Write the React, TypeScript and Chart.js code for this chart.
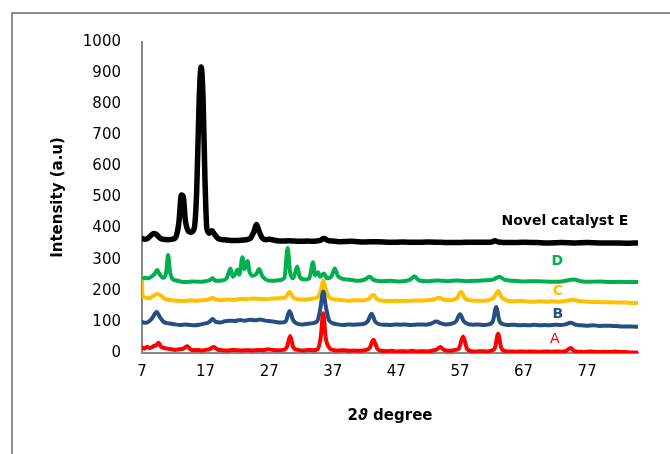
import React, { useEffect, useRef } from "react";
import { Chart, registerables } from "chart.js";

Chart.register(...registerables);

// ---- axis settings / tick labels ----
const X_MIN = 7;
const X_MAX = 85;
const X_TICKS = [7, 17, 27, 37, 47, 57, 67, 77];
const Y_MIN = 0;
const Y_MAX = 1000;
const Y_STEP = 100;
const X_TITLE_PARTS = ["2", "ϑ", " degree"];
const Y_TITLE = "Intensity (a.u)";

// ---- series values: [2theta, intensity] ----
const seriesE: [number, number][] = [
  [7, 368], [7.5, 366], [8, 370], [8.5, 380], [8.8, 384], [9.2, 382], [9.7, 372], [10.2, 366], [11, 364],
  [11.8, 366], [12.3, 372], [12.8, 420], [13.2, 508], [13.5, 502], [13.8, 430], [14.2, 395], [14.7, 388],
  [15.2, 400], [15.6, 520], [16, 820], [16.3, 920], [16.6, 820], [16.9, 560], [17.2, 400], [17.6, 385],
  [18, 393], [18.4, 382], [19, 368], [20, 364], [21, 362], [22, 362], [23, 363], [24, 368], [24.6, 390],
  [25, 413], [25.4, 392], [25.9, 370], [26.5, 364], [27, 366], [28, 362], [29, 360], [30, 361], [31, 360],
  [32, 359], [33, 360], [34, 359], [35, 362], [35.6, 368], [36.2, 362], [37, 360], [38, 358], [40, 359],
  [42, 357], [44, 358], [46, 356], [48, 357], [50, 356], [52, 357], [54, 356], [56, 355], [58, 356],
  [60, 356], [62, 357], [62.5, 361], [63, 357], [65, 355], [67, 356], [69, 355], [71, 354], [73, 355],
  [75, 354], [77, 355], [79, 354], [81, 354], [83, 353], [85, 354],
];

const seriesD: [number, number][] = [
  [7, 238], [7.5, 242], [8, 240], [8.5, 246], [9, 255], [9.4, 267], [9.8, 252], [10.3, 242], [10.8, 258],
  [11.1, 315], [11.4, 262], [11.8, 238], [12.5, 233], [13, 230], [14, 228], [15, 230], [16, 229], [17, 231],
  [17.6, 234], [18.1, 240], [18.6, 232], [19.5, 233], [20.3, 240], [20.9, 272], [21.3, 245], [21.7, 255],
  [22, 268], [22.3, 252], [22.8, 308], [23.1, 270], [23.6, 296], [23.9, 262], [24.4, 248], [25, 255],
  [25.4, 270], [25.9, 248], [26.5, 236], [27.5, 232], [28.5, 234], [29.4, 242], [29.9, 338], [30.3, 258],
  [30.8, 240], [31.4, 278], [31.8, 245], [32.5, 236], [33.3, 240], [33.9, 292], [34.2, 250], [34.7, 260],
  [35, 245], [35.6, 256], [36.1, 240], [36.8, 246], [37.3, 272], [37.8, 248], [38.6, 238], [39.4, 236],
  [40.2, 234], [41, 232], [42, 236], [42.8, 245], [43.4, 235], [44.5, 231], [46, 232], [47.5, 230],
  [49, 234], [49.9, 246], [50.5, 234], [52, 231], [53.5, 233], [55, 231], [56.5, 233], [58, 231],
  [59.5, 232], [61, 234], [62.2, 236], [63.2, 245], [64, 236], [65.5, 232], [67, 230], [68.5, 231],
  [70, 230], [71.5, 229], [73, 230], [74.9, 236], [76, 231], [77.5, 229], [79, 230], [80.5, 228],
  [82, 229], [83.5, 228], [85, 228],
];

const seriesC: [number, number][] = [
  [7, 230], [7.1, 182], [7.6, 178], [8.2, 176], [8.8, 184], [9.4, 190], [10, 184], [10.6, 174], [11.5, 170],
  [12.5, 168], [13.5, 167], [14.5, 169], [15.5, 168], [16.5, 170], [17.5, 172], [18.1, 178], [18.7, 171],
  [19.5, 170], [20.5, 172], [21.5, 171], [22.5, 174], [23.5, 173], [24.5, 175], [25.5, 174], [26.5, 173],
  [27.5, 175], [28.5, 176], [29.5, 178], [30.2, 196], [30.8, 178], [31.5, 173], [32.5, 172], [33.5, 174],
  [34.5, 178], [35.1, 200], [35.5, 232], [36, 198], [36.6, 176], [37.5, 172], [38.5, 170], [39.5, 168],
  [40.5, 170], [41.5, 169], [42.5, 172], [43.4, 187], [44, 172], [45, 168], [46, 167], [47, 168], [48, 167],
  [49, 168], [50, 169], [51, 168], [52, 170], [53, 173], [53.7, 178], [54.5, 171], [55.5, 170], [56.5, 176],
  [57.2, 196], [57.8, 176], [58.5, 170], [59.5, 168], [60.5, 168], [61.5, 170], [62.4, 180], [63, 199],
  [63.6, 178], [64.5, 168], [65.5, 166], [66.5, 167], [67.5, 166], [68.5, 165], [69.5, 166], [70.5, 165],
  [71.5, 166], [72.5, 165], [73.5, 167], [74.8, 171], [75.8, 167], [77, 165], [78, 164], [79, 164],
  [80, 163], [81, 163], [82, 162], [83, 162], [84, 161], [85, 161],
];

const seriesB: [number, number][] = [
  [7, 100], [7.5, 97], [8, 100], [8.6, 112], [9.3, 132], [9.8, 116], [10.4, 100], [11, 96], [11.6, 94],
  [12.2, 92], [13, 90], [13.8, 92], [14.6, 90], [15.4, 89], [16.2, 92], [17, 95], [17.6, 100], [18.1, 109],
  [18.6, 100], [19.3, 98], [20, 102], [20.8, 104], [21.6, 103], [22.4, 106], [23.2, 104], [24, 107],
  [24.8, 105], [25.6, 108], [26.4, 104], [27.2, 102], [28, 100], [28.8, 98], [29.6, 102], [30.2, 135],
  [30.8, 104], [31.5, 94], [32.3, 92], [33.1, 94], [33.9, 96], [34.6, 104], [35.1, 150], [35.5, 198],
  [35.9, 150], [36.4, 106], [37, 96], [37.8, 92], [38.6, 90], [39.4, 92], [40.2, 91], [41, 92], [41.8, 93],
  [42.5, 102], [43.1, 126], [43.7, 100], [44.4, 92], [45.2, 91], [46, 90], [46.8, 92], [47.6, 91],
  [48.4, 92], [49.2, 90], [50, 91], [50.8, 92], [51.6, 91], [52.4, 94], [53.3, 101], [54, 95], [54.8, 92],
  [55.6, 94], [56.4, 102], [57, 125], [57.6, 102], [58.3, 93], [59.1, 91], [59.9, 92], [60.7, 90],
  [61.5, 92], [62.2, 104], [62.7, 148], [63.2, 104], [63.9, 92], [64.7, 90], [65.5, 91], [66.3, 89],
  [67.1, 90], [67.9, 89], [68.7, 91], [69.5, 89], [70.3, 90], [71.1, 89], [71.9, 91], [72.7, 90],
  [73.6, 92], [74.4, 97], [75.2, 91], [76, 89], [77, 88], [78, 89], [79, 87], [80, 88], [81, 87],
  [82, 86], [83, 85], [84, 85], [85, 84],
];

const seriesA: [number, number][] = [
  [7, 18], [7.4, 14], [7.8, 20], [8.3, 16], [8.8, 22], [9.3, 26], [9.6, 33], [10, 20], [10.5, 16], [11, 14],
  [11.6, 12], [12.2, 10], [12.8, 12], [13.5, 14], [14.1, 22], [14.6, 12], [15.2, 9], [15.8, 10], [16.4, 8],
  [17, 10], [17.6, 12], [18.3, 19], [18.9, 11], [19.6, 9], [20.4, 8], [21.2, 10], [22, 9], [22.8, 8],
  [23.6, 9], [24.4, 8], [25.2, 10], [26, 9], [26.8, 12], [27.6, 10], [28.4, 9], [29.2, 10], [29.8, 20],
  [30.3, 55], [30.8, 18], [31.5, 10], [32.3, 8], [33.1, 10], [33.9, 9], [34.6, 12], [35.1, 50], [35.5, 128],
  [35.9, 48], [36.5, 16], [37.2, 9], [38, 8], [38.8, 9], [39.6, 7], [40.4, 8], [41.2, 7], [42, 9], [42.8, 16],
  [43.4, 43], [44, 14], [44.7, 7], [45.5, 6], [46.3, 7], [47.1, 5], [47.9, 6], [48.7, 5], [49.5, 7],
  [50.3, 5], [51.1, 6], [51.9, 5], [52.7, 8], [53.4, 12], [53.9, 19], [54.5, 10], [55.2, 7], [56, 9],
  [56.8, 14], [57.5, 53], [58.1, 14], [58.8, 6], [59.6, 5], [60.4, 6], [61.2, 5], [62, 8], [62.5, 16],
  [63, 62], [63.5, 16], [64.2, 6], [65, 5], [65.8, 4], [66.6, 5], [67.4, 4], [68.2, 5], [69, 4], [69.8, 4],
  [70.6, 5], [71.4, 4], [72.2, 5], [73, 4], [73.7, 7], [74.4, 16], [75, 6], [75.8, 4], [76.6, 3],
  [77.4, 5], [78.2, 4], [79, 3], [79.8, 4], [80.6, 3], [81.4, 5], [82.2, 3], [83, 3], [83.8, 2],
  [84.5, 2], [85, 2],
];

// ---- series labels (placed in data coordinates) ----
const LABEL_TEXTS = ["A", "B", "C", "D", "Novel catalyst E"];
const LABEL_X = [71.9, 72.4, 72.4, 72.3, 73.5];
const LABEL_Y = [45, 125, 199, 296, 424];
const LABEL_BOLD = [false, true, true, true, true];

const COLORS = ["#FF0000", "#254E82", "#FFC000", "#00B050", "#000000"];
const WIDTHS = [4, 4, 4, 4, 5.5];
const SERIES = [seriesA, seriesB, seriesC, seriesD, seriesE];
const NAMES = ["A", "B", "C", "D", "E"];

const FONT = "'DejaVu Sans', sans-serif";

const decorPlugin = {
  id: "decor",
  beforeDraw(chart: any) {
    const ctx = chart.ctx;
    ctx.save();
    ctx.fillStyle = "#ffffff";
    ctx.fillRect(0, 0, chart.width, chart.height);
    ctx.strokeStyle = "#8e8e8e";
    ctx.lineWidth = 2;
    ctx.beginPath();
    ctx.moveTo(12, chart.height + 5);
    ctx.lineTo(12, 13);
    ctx.lineTo(chart.width + 5, 13);
    ctx.stroke();
    ctx.restore();
  },
  afterDraw(chart: any) {
    const ctx = chart.ctx;
    const xs = chart.scales.x;
    const ys = chart.scales.y;
    const area = chart.chartArea;
    ctx.save();
    // series labels
    ctx.textAlign = "center";
    ctx.textBaseline = "middle";
    LABEL_TEXTS.forEach((t, i) => {
      ctx.font = `${LABEL_BOLD[i] ? "bold " : ""}14px ${FONT}`;
      ctx.fillStyle = COLORS[i];
      ctx.fillText(t, xs.getPixelForValue(LABEL_X[i]), ys.getPixelForValue(LABEL_Y[i]));
    });
    // y title
    ctx.save();
    ctx.translate(area.left - 84, (area.top + area.bottom) / 2);
    ctx.rotate(-Math.PI / 2);
    ctx.font = `bold 15px ${FONT}`;
    ctx.fillStyle = "#000";
    ctx.fillText(Y_TITLE, 0, 0);
    ctx.restore();
    // x title with italic theta
    const fonts = [`bold 15px ${FONT}`, `italic bold 15px ${FONT}`, `bold 15px ${FONT}`];
    let total = 0;
    const widths = X_TITLE_PARTS.map((p, i) => {
      ctx.font = fonts[i];
      const w = ctx.measureText(p).width;
      total += w;
      return w;
    });
    let x = (area.left + area.right) / 2 - total / 2;
    const y = area.bottom + 63;
    ctx.textAlign = "left";
    ctx.fillStyle = "#000";
    X_TITLE_PARTS.forEach((p, i) => {
      ctx.font = fonts[i];
      ctx.fillText(p, x, y);
      x += widths[i];
    });
    ctx.restore();
  },
};

export default function App() {
  const ref = useRef<HTMLCanvasElement | null>(null);
  useEffect(() => {
    if (!ref.current) return;
    const chart = new Chart(ref.current, {
      type: "line",
      data: {
        datasets: SERIES.map((s, i) => ({
          label: NAMES[i],
          data: s.map(([x, y]) => ({ x, y })),
          borderColor: COLORS[i],
          backgroundColor: COLORS[i],
          borderWidth: WIDTHS[i],
          pointRadius: 0,
          cubicInterpolationMode: "monotone" as const,
          borderJoinStyle: "round" as const,
          borderCapStyle: "round" as const,
          fill: false,
        })),
      },
      options: {
        responsive: false,
        animation: false,
        events: [],
        layout: { padding: { left: 0, top: 42, right: 32, bottom: 0 } },
        plugins: { legend: { display: false }, tooltip: { enabled: false }, title: { display: false } },
        scales: {
          x: {
            type: "linear",
            min: X_MIN,
            max: X_MAX,
            afterBuildTicks: (scale: any) => {
              scale.ticks = X_TICKS.map((v) => ({ value: v }));
            },
            afterFit: (scale: any) => {
              scale.height = 101;
            },
            grid: { display: false, drawTicks: false },
            border: { display: true, color: "#878787", width: 2 },
            ticks: {
              color: "#000",
              font: { family: FONT, size: 15 },
              padding: 10,
              maxRotation: 0,
              autoSkip: false,
              callback: (v: any) => String(v),
            },
          },
          y: {
            type: "linear",
            min: Y_MIN,
            max: Y_MAX,
            afterFit: (scale: any) => {
              scale.width = 142;
            },
            grid: { display: false, drawTicks: false },
            border: { display: true, color: "#878787", width: 2 },
            ticks: {
              stepSize: Y_STEP,
              color: "#000",
              font: { family: FONT, size: 15 },
              padding: 21,
              callback: (v: any) => String(v),
            },
          },
        },
      },
      plugins: [decorPlugin],
    });
    return () => chart.destroy();
  }, []);
  return (
    <div style={{ position: "absolute", left: 0, top: 0, width: 670, height: 454 }}>
      <canvas ref={ref} width={670} height={454} style={{ display: "block", width: 670, height: 454 }} />
    </div>
  );
}
